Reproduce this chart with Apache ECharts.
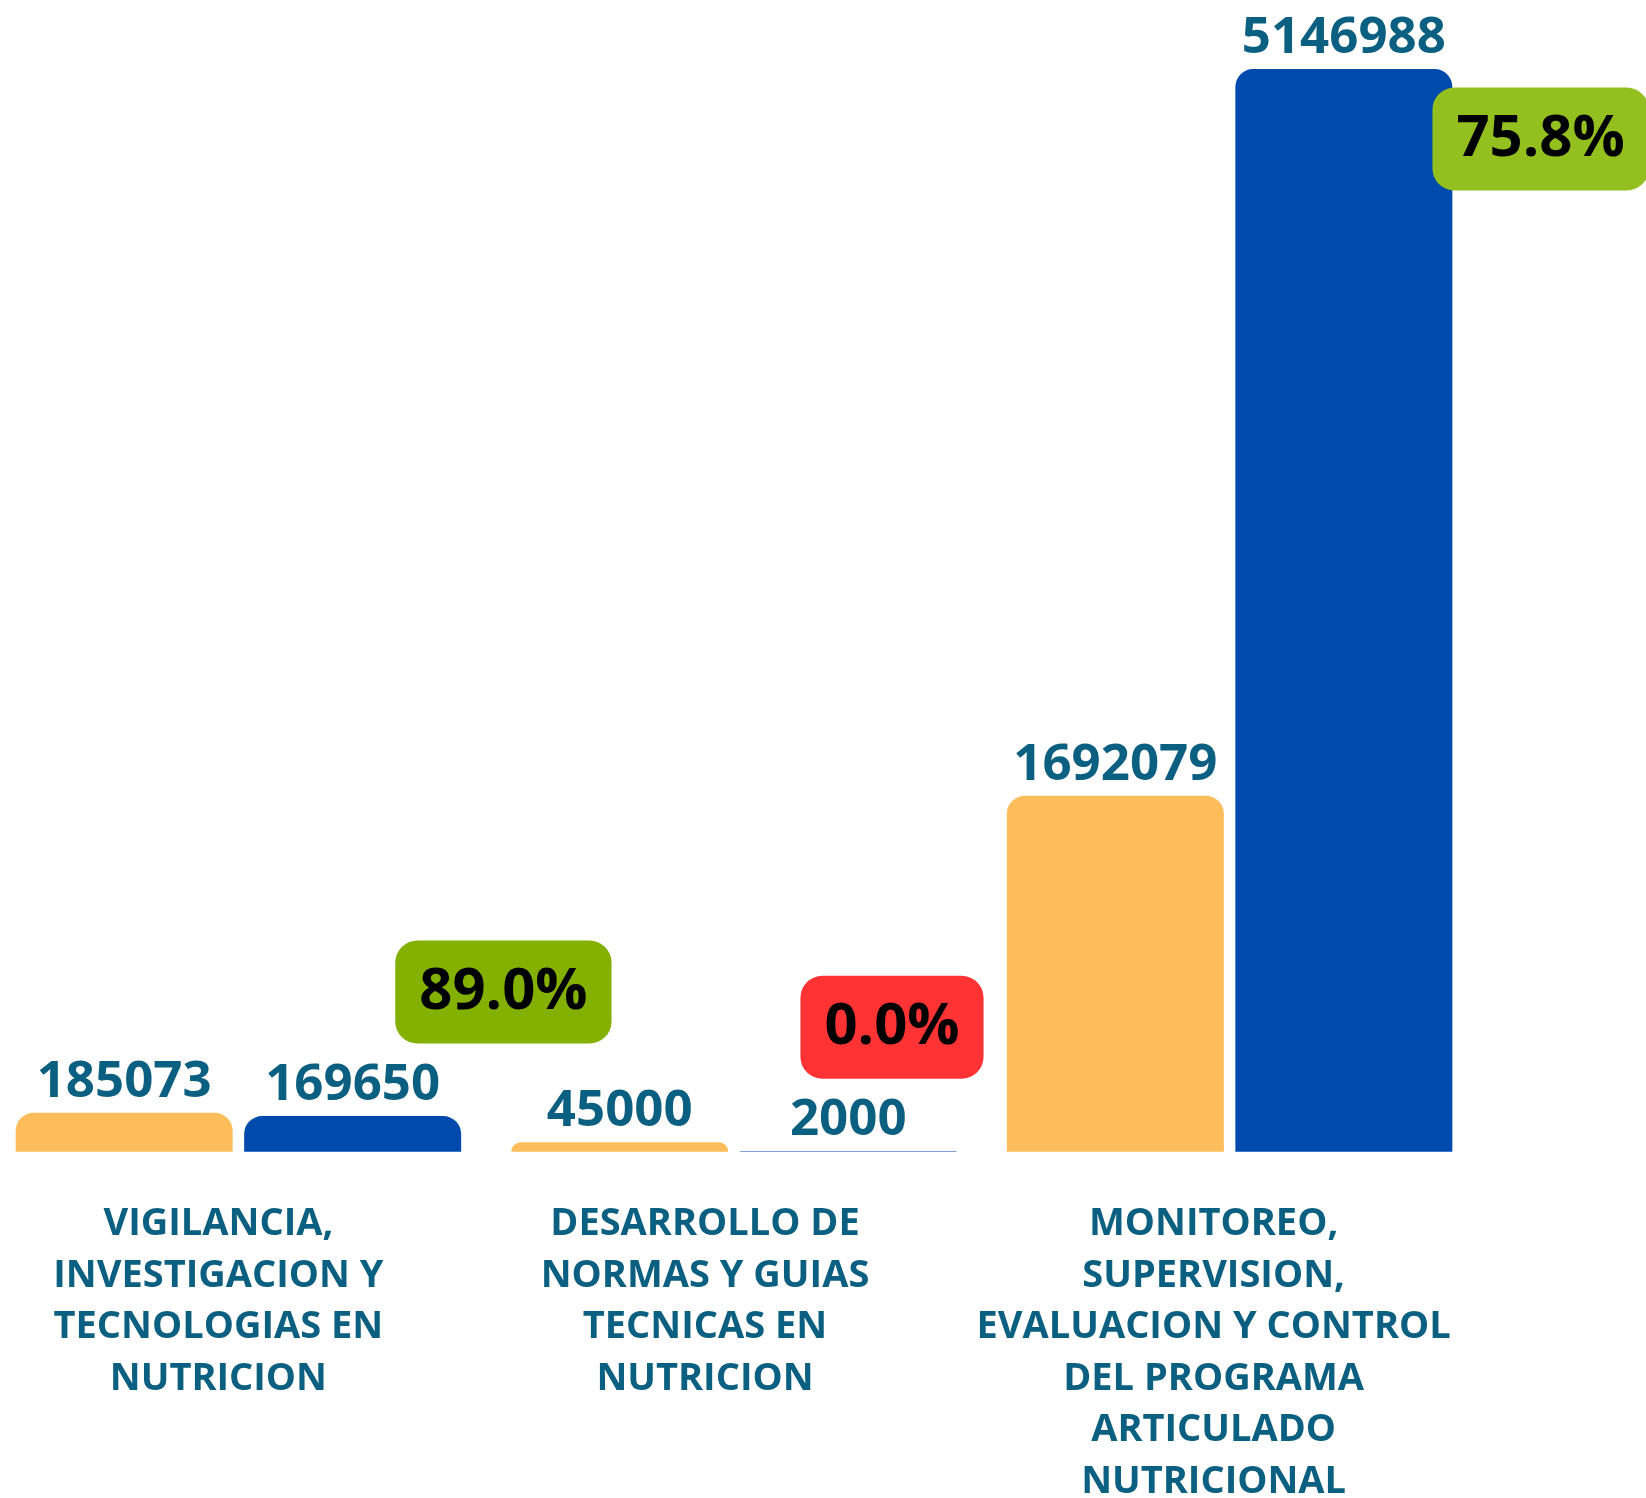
<!DOCTYPE html>
<html>
<head>
<meta charset="utf-8">
<script src="https://cdn.jsdelivr.net/npm/echarts@6/dist/echarts.min.js"></script>
<style>
html,body{margin:0;padding:0;background:#fff;}
#chart{width:1646px;height:1498px;}
</style>
</head>
<body>
<div id="chart"></div>
<script>
// ---- data ----
const categories = [
  "VIGILANCIA,\nINVESTIGACION Y\nTECNOLOGIAS EN\nNUTRICION",
  "DESARROLLO DE\nNORMAS Y GUIAS\nTECNICAS EN\nNUTRICION",
  "MONITOREO,\nSUPERVISION,\nEVALUACION Y CONTROL\nDEL PROGRAMA\nARTICULADO\nNUTRICIONAL"
];
const pimValues = [185073, 45000, 1692079];
const devengadoValues = [169650, 2000, 5146988];
const avancePct = [89.0, 0.0, 75.8];

// ---- styling / layout ----
const textColor = '#0b5f80';
const fontFam = '"Open Sans", "Noto Sans", sans-serif';
const labelShift = [40, 58, 32];              // right padding to nudge category labels left
const pctOffsets = [[265, -124], [158, -124], [311, 70]];
function pctColor(v) {
  if (v >= 85) return '#84b100';
  if (v >= 50) return '#93bf1f';
  return '#ff3333';
}

const chart = echarts.init(document.getElementById('chart'), null, {renderer: 'canvas'});

const rich = {};
labelShift.forEach((p, i) => {
  rich['c' + i] = {
    fontFamily: fontFam, fontSize: 38, fontWeight: 'bold', color: textColor,
    lineHeight: 51.5, padding: [0, p, 0, 0]
  };
});

const valueLabel = {
  show: true, position: 'top', distance: 5,
  fontFamily: fontFam, fontSize: 51, fontWeight: 'bold', color: textColor
};

chart.setOption({
  backgroundColor: '#ffffff',
  animation: false,
  grid: { left: -9.4, right: 168.6, top: 69, bottom: 346.3, outerBoundsMode: 'none', containLabel: false },
  xAxis: {
    type: 'category',
    data: categories,
    axisLine: { show: false },
    axisTick: { show: false },
    axisLabel: {
      interval: 0, margin: 47,
      formatter: function (val, idx) {
        return val.split('\n').map(l => '{c' + idx + '|' + l + '}').join('\n');
      },
      rich: rich
    }
  },
  yAxis: {
    type: 'value', min: 0, max: 'dataMax', show: false,
    splitLine: { show: false }
  },
  series: [
    {
      name: 'PIM', type: 'bar', data: pimValues,
      barWidth: 217, barGap: '5.3%',
      itemStyle: { color: '#fdbd5b', borderRadius: [18, 18, 0, 0] },
      label: valueLabel
    },
    {
      name: 'Devengado', type: 'bar', data: devengadoValues,
      barWidth: 217, barGap: '5.3%',
      itemStyle: { color: '#004aad', borderRadius: [18, 18, 0, 0] },
      label: valueLabel
    },
    {
      name: 'Avance', type: 'scatter', symbolSize: 0.1,
      itemStyle: { color: 'rgba(0,0,0,0)', opacity: 1 },
      z: 10,
      data: devengadoValues.map((v, i) => ({
        value: v,
        label: {
          show: true, position: 'inside', offset: pctOffsets[i],
          formatter: avancePct[i].toFixed(1) + '%',
          fontFamily: fontFam, fontSize: 58, fontWeight: 'bold', color: '#000000',
          opacity: 1,
          lineHeight: 63, padding: [20, 24, 20, 24], borderRadius: 22,
          backgroundColor: pctColor(avancePct[i])
        }
      }))
    }
  ]
});
</script>
</body>
</html>
